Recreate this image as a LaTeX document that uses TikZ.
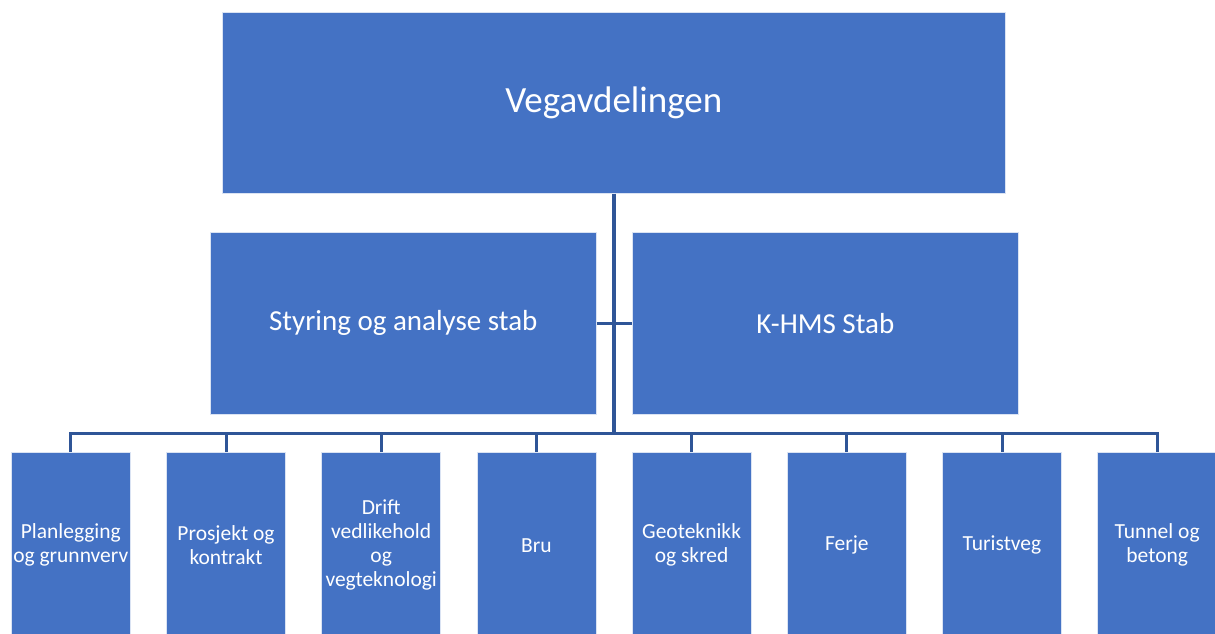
\documentclass[tikz,border=0pt]{standalone}
\usepackage{fontspec}
\setmainfont{Carlito}
\usetikzlibrary{positioning}
\definecolor{box_blue}{HTML}{4472C4}
\definecolor{line_blue}{HTML}{2F5597}

\begin{document}
\begin{tikzpicture}[
                        x=1pt, y=-1pt,
                        unit/.style={draw=white!80!box_blue, fill=box_blue, line width=0.6pt, text=white, align=center, inner sep=0pt, anchor=north west},
                        head/.style={unit, minimum width=783pt, minimum height=181pt, font=\fontsize{37}{44}\selectfont},
                        staff/.style={unit, minimum width=386pt, minimum height=182pt, font=\fontsize{29}{35}\selectfont},
                        section/.style={unit, minimum width=119pt, minimum height=186pt, font=\fontsize{21.5}{24}\selectfont},
                        link/.style={draw=line_blue, line width=3pt},
                        node distance=0pt and 35.6pt,
                    ]
                        \useasboundingbox (0,0) rectangle (1215,634);

                        %nodes
                        \node[head] (vegavdelingen) at (222,12) {Vegavdelingen};
                        \node[staff] (styring) at (210,232) {Styring og analyse stab};
                        \node[staff] (khms) at (632,232) {K-HMS Stab};
                        \node[section] (s1) at (11,452) {Planlegging\\og grunnverv};
                        \node[section] (s2) [right=of s1.north east, anchor=north west] {Prosjekt og\\kontrakt};
                        \node[section] (s3) [right=of s2.north east, anchor=north west] {Drift\\vedlikehold\\og\\vegteknologi};
                        \node[section] (s4) [right=of s3.north east, anchor=north west] {Bru};
                        \node[section] (s5) [right=of s4.north east, anchor=north west] {Geoteknikk\\og skred};
                        \node[section] (s6) [right=of s5.north east, anchor=north west] {Ferje};
                        \node[section] (s7) [right=of s6.north east, anchor=north west] {Turistveg};
                        \node[section] (s8) [right=of s7.north east, anchor=north west] {Tunnel og\\betong};
                        \coordinate (bus) at (vegavdelingen.south |- 0,433);

                        % connections
                        \draw[link, line width=3.5pt] (vegavdelingen.south) -- (bus);
                        \draw[link] (styring.east) -- (khms.west);
                        \foreach \m in {1,...,8} {
                            \draw[link] (bus) -| (s\m.north);
                        }
                    \end{tikzpicture}
\end{document}
